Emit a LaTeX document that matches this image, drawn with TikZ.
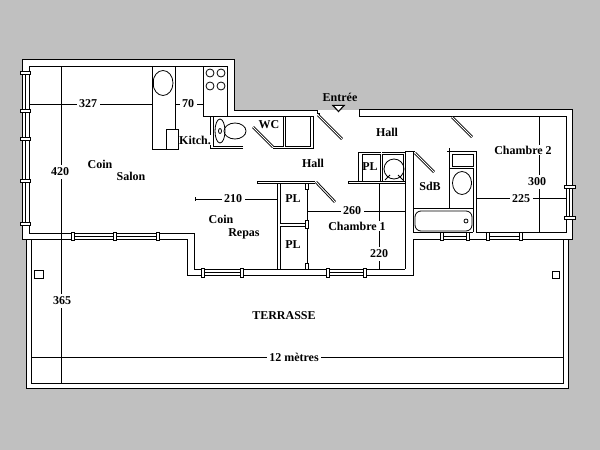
\documentclass[tikz,border=0pt]{standalone}
\usepackage{fontspec}
\setmainfont{Liberation Serif}
\definecolor{bggray}{HTML}{C0C0C0}
\begin{document}
\begin{tikzpicture}[
    x=1pt, y=-1pt,
    wall/.style={draw=black, line width=1pt},
    thin wall/.style={draw=black, line width=0.8pt},
    fixture/.style={draw=black, line width=0.8pt},
    door/.style={draw=black, line width=0.9pt, double=white, double distance=0.9pt},
    post/.style={draw=black, fill=white, line width=0.9pt},
    dim/.style={draw=black, line width=0.9pt},
    txt/.style={font=\bfseries\fontsize{12}{12}\selectfont, inner sep=0.5pt},
    dimtxt/.style={txt, fill=white, inner sep=2.5pt},
]
\useasboundingbox (0,0) rectangle (600,450);
\fill[bggray] (0,0) rectangle (600,450);

% White ground of the flat and of the terrace
\fill[white] (22,59) -- (234,59) -- (234,110) -- (359,110) -- (359,109)
    -- (572,109) -- (572,239) -- (568,239) -- (568,388) -- (26,388) -- (26,239) -- (22,239) -- cycle;

% Terrace
\draw[wall] (26,239) -- (26,388) -- (568,388) -- (568,239);
\draw[wall] (31,239) -- (31,383) -- (563,383) -- (563,239);
\draw[post] (34,270) rectangle (43,278);
\draw[post] (552,271) rectangle (559,278);

% Outer walls
\draw[wall] (359,116) -- (359,109) -- (572,109) -- (572,239) -- (413,239) -- (413,275)
    -- (187,275) -- (187,239) -- (22,239) -- (22,59) -- (234,59) -- (234,110) -- (317,110)
    -- (317,113) -- (319,113) -- (319,116);
\draw[wall] (359,116) -- (566,116) -- (566,232) -- (476,232);
\draw[wall] (413,232) -- (473,232);
\draw[wall] (29,233) -- (29,66) -- (227,66) -- (227,116);
\draw[wall] (29,233) -- (194,233) -- (194,269) -- (405,269);

% Windows
\foreach \ya/\yb in {73/111, 111/139, 139/181, 181/224} {
    \draw[thin wall] (25.5,\ya) -- (25.5,\yb);
}
\foreach \xa/\xb in {73/115, 115/158, 442/468, 488/521} {
    \draw[thin wall] (\xa,236) -- (\xb,236);
}
\foreach \xa/\xb in {203/242, 328/365} {
    \draw[thin wall] (\xa,272.5) -- (\xb,272.5);
}
\draw[thin wall] (569,187) -- (569,218);
\foreach \y in {73, 111, 139, 181, 224} {
    \draw[post] (20.5,\y-1.3) rectangle (30.5,\y+1.3);
}
\foreach \x in {73, 115, 158, 442, 468, 488, 521} {
    \draw[post] (\x-1.3,232) rectangle (\x+1.3,240.5);
}
\foreach \x in {203, 242, 328, 365} {
    \draw[post] (\x-1.3,268) rectangle (\x+1.3,277);
}
\foreach \y in {187, 218} {
    \draw[post] (564.5,\y-1.3) rectangle (575,\y+1.3);
}

% Kitchen
\draw[fixture] (152,66) -- (152,149) -- (178,149) -- (178,129) -- (166,129) -- (166,149);
\draw[fixture] (175,66) -- (175,129);
\draw[fixture] (163,83) ellipse (10 and 12.5);
\draw[fixture] (153,81) -- (153,85);
\draw[fixture] (203,66) -- (203,116) -- (227,116);
\foreach \x in {210, 221} {
    \foreach \y in {73, 86} {
        \draw[fixture] (\x,\y) circle (4);
    }
}

% WC and cupboard
\draw[wall] (243,148) -- (210,148) -- (210,116) -- (313,116) -- (313,148) -- (273,148);
\draw[thin wall] (243,146) -- (213,146) -- (213,116);
\draw[thin wall] (273,146) -- (283,146) -- (283,116);
\draw[thin wall] (285,116) -- (285,146) -- (310,146) -- (310,116);
\draw[fixture] (220,131) ellipse (5 and 12);
\draw[fixture] (220,131) ellipse (1.5 and 2.5);
\draw[fixture] (235,131) ellipse (11 and 8);
\draw[door] (253,127) -- (273,147);

% Doors of the hall
\draw[door] (318,115) -- (342,139);
\draw[door] (452,117) -- (472,137);
\draw[door] (415,153) -- (434,172);
\draw[door] (316,182) -- (335,202);
\draw[fill=black] (332,105) -- (345,105) -- (338.5,112) -- cycle;
\fill[white] (334.5,106) -- (342.5,106) -- (338.5,110.5) -- cycle;

% Closet and boiler
\draw[wall] (358,181) -- (358,152) -- (381,152);
\draw[thin wall] (362,181) -- (362,154) -- (380,154) -- (380,181);
\draw[thin wall] (382,181) -- (382,154) -- (403,154) -- (403,181);
\draw[wall] (382,152) -- (405,152);
\draw[fixture] (394,169) circle (10);
\draw[fixture] (385,180) -- (390,175);
\draw[fixture] (403,180) -- (398,175);
\draw[wall] (348,181) -- (405,181);
\draw[wall] (348,183.5) -- (405,183.5);
\draw[wall] (348,181) -- (348,183.5);
\draw[wall] (405,151) -- (405,269);
\draw[wall] (405,151) -- (415,151);
\draw[wall] (413,151) -- (413,232);

% Cupboards of the dining corner
\draw[wall] (257,181) -- (315,181);
\draw[wall] (257,183.5) -- (315,183.5);
\draw[wall] (257,181) -- (257,183.5);
\draw[wall] (277,183.5) -- (277,269);
\draw[thin wall] (280,183.5) -- (280,223) -- (307,223);
\draw[thin wall] (280,226) -- (280,269);
\draw[thin wall] (280,226) -- (307,226);
\draw[thin wall] (307,183.5) -- (307,269);
\foreach \y/\h in {186/3, 224/4, 266/3} {
    \draw[post] (305.5,\y-\h) rectangle (308.5,\y+\h);
}

% Bathroom
\draw[wall] (449,148) -- (449,151) -- (476,151) -- (476,232);
\draw[wall] (449,148) -- (449,208);
\draw[wall] (447,151) -- (452,151);
\draw[thin wall] (452,154) rectangle (473,166);
\draw[thin wall] (449,168) -- (473,168) -- (473,232);
\draw[fixture] (462,183) ellipse (9.5 and 11.5);
\draw[fixture] (471.5,181) -- (471.5,185);
\draw[wall] (413,208) -- (473,208);
\draw[fixture, rounded corners=6pt] (415,211) rectangle (472,231);
\draw[fixture] (466,221) circle (2);

% Dimension lines
\draw[dim] (61.5,66) -- (61.5,383);
\draw[dim] (29,104) -- (152,104);
\draw[dim] (175,104) -- (203,104);
\draw[dim] (195,199) -- (277,199);
\draw[dim] (195,197) -- (195,201);
\draw[dim] (307,211) -- (405,211);
\draw[dim] (379,183.5) -- (379,269);
\draw[dim] (539,116) -- (539,232);
\draw[dim] (476,198) -- (566,198);
\draw[dim] (31,357) -- (563,357);

\node[dimtxt] (d327) at (88,104) {327};
\node[dimtxt] (d70) at (188,104) {70};
\node[dimtxt] (d420) at (60,172) {420};
\node[dimtxt] (d365) at (62,301) {365};
\node[dimtxt] (d210) at (233,199) {210};
\node[dimtxt] (d260) at (352,211) {260};
\node[dimtxt] (d220) at (379,254) {220};
\node[dimtxt] (d300) at (537,182) {300};
\node[dimtxt] (d225) at (521,199) {225};
\node[dimtxt] (d12m) at (294,357) {12 mètres};

% Room names
\node[txt] (coin1) at (100,164) {Coin};
\node[txt] (salon) at (131,176) {Salon};
\node[txt, fill=white] (kitch) at (195,140) {Kitch.};
\node[txt] (wc) at (269,125) {WC};
\node[txt] (entree) at (340,97) {Entrée};
\node[txt] (hall1) at (387,132) {Hall};
\node[txt] (hall2) at (313,163) {Hall};
\node[txt] (pl1) at (370,167) {PL};
\node[txt] (pl2) at (293,199) {PL};
\node[txt] (pl3) at (293,245) {PL};
\node[txt] (sdb) at (430,186) {SdB};
\node[txt, fill=white] (ch2) at (523,150) {Chambre 2};
\node[txt, fill=white] (ch1) at (357,226) {Chambre 1};
\node[txt] (coin2) at (221,219) {Coin};
\node[txt] (repas) at (244,234) {Repas};
\node[txt] (terrasse) at (284,316) {TERRASSE};
\end{tikzpicture}
\end{document}
